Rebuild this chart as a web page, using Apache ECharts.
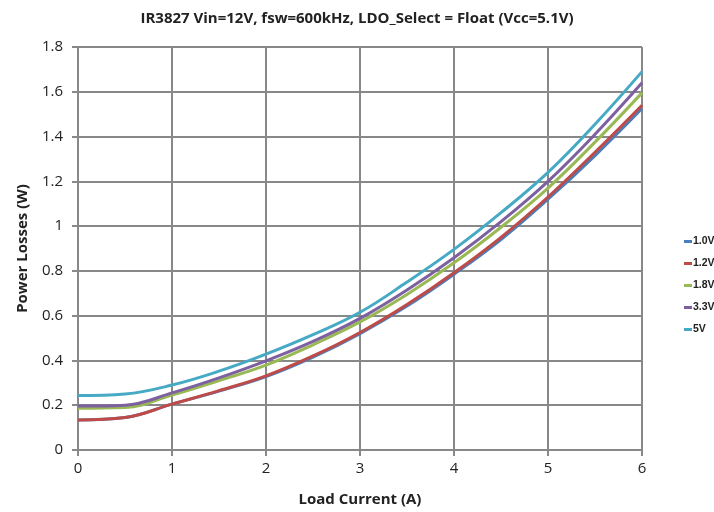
<!DOCTYPE html>
<html><head><meta charset="utf-8">
<script src="https://cdn.jsdelivr.net/npm/echarts@6/dist/echarts.min.js"></script>
<style>html,body{margin:0;padding:0;background:#fff}#c{width:714px;height:512px}</style>
</head><body><div id="c"></div>
<script>
const loadCurrent = [0, 0.5, 1, 1.5, 2, 2.5, 3, 3.5, 4, 4.5, 5, 5.5, 6];
const v1_0 = [0.134, 0.145, 0.205, 0.263, 0.328, 0.415, 0.52, 0.643, 0.785, 0.94, 1.12, 1.315, 1.525];
const v1_2 = [0.134, 0.145, 0.205, 0.265, 0.331, 0.42, 0.525, 0.65, 0.792, 0.95, 1.13, 1.33, 1.54];
const v1_8 = [0.187, 0.19, 0.245, 0.31, 0.379, 0.47, 0.572, 0.695, 0.836, 0.995, 1.17, 1.375, 1.595];
const v3_3 = [0.196, 0.2, 0.255, 0.322, 0.398, 0.485, 0.588, 0.715, 0.859, 1.02, 1.2, 1.41, 1.64];
const v5 = [0.243, 0.25, 0.29, 0.352, 0.428, 0.515, 0.615, 0.75, 0.896, 1.06, 1.24, 1.455, 1.69];
const seriesNames = ['1.0V', '1.2V', '1.8V', '3.3V', '5V'];
const seriesData = [v1_0, v1_2, v1_8, v3_3, v5];
const colors = ['#4A7EBB', '#BE4B48', '#98B954', '#7D60A0', '#46AAC5'];
const font = '"Open Sans", "Liberation Sans", sans-serif';
const chart = echarts.init(document.getElementById('c'));
chart.setOption({
  animation: false,
  title: { text: 'IR3827 Vin=12V, fsw=600kHz, LDO_Select = Float (Vcc=5.1V)', left: 'center', top: 6,
    textStyle: { fontFamily: font, fontSize: 15, fontWeight: 'bold', color: '#222' } },
  legend: { orient: 'vertical', left: 684, top: 235, padding: 0, itemWidth: 8, itemHeight: 3, itemGap: 9,
    icon: 'rect', textStyle: { fontFamily: '"Liberation Sans", Arial, sans-serif', fontSize: 10.5, lineHeight: 13, fontWeight: 'bold', color: '#222', padding: [0,0,0,-4] },
    data: seriesNames },
  grid: { left: 78, right: 72, top: 47, bottom: 61 },
  xAxis: { type: 'value', min: 0, max: 6, interval: 1, name: 'Load Current (A)', nameLocation: 'middle', nameGap: 42,
    nameTextStyle: { fontFamily: font, fontSize: 15, fontWeight: 'bold', color: '#222' },
    axisLine: { lineStyle: { color: '#888', width: 2 } },
    axisTick: { show: true, length: 6, lineStyle: { color: '#888', width: 2 } },
    splitLine: { show: true, lineStyle: { color: '#888', width: 2 } },
    axisLabel: { fontFamily: font, fontSize: 15, color: '#222', margin: 11 } },
  yAxis: { type: 'value', min: 0, max: 1.8, interval: 0.2, name: 'Power Losses (W)', nameLocation: 'middle', nameGap: 48,
    nameTextStyle: { fontFamily: font, fontSize: 15, fontWeight: 'bold', color: '#222' },
    axisLine: { show: true, lineStyle: { color: '#888', width: 2 } },
    axisTick: { show: true, length: 6, lineStyle: { color: '#888', width: 2 } },
    splitLine: { show: true, lineStyle: { color: '#888', width: 2 } },
    axisLabel: { fontFamily: font, fontSize: 15, color: '#222', margin: 15,
      formatter: v => String(Math.round(v * 10) / 10) } },
  series: seriesNames.map((n, i) => ({
    name: n, type: 'line', smooth: 0.4, showSymbol: false, symbol: 'none',
    color: colors[i], lineStyle: { width: 3, color: colors[i] },
    data: loadCurrent.map((x, j) => [x, seriesData[i][j]])
  }))
});
</script></body></html>
